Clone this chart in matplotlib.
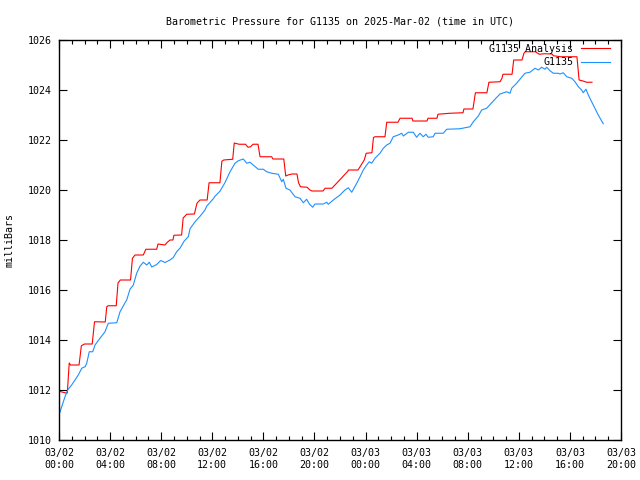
import matplotlib
matplotlib.use("Agg")
import matplotlib.pyplot as plt
from matplotlib.ticker import MultipleLocator

# hours since 03/02 00:00 UTC
analysis_hours = [0.0, 0.55, 0.65, 0.80, 0.90, 1.57, 1.75, 2.0, 2.6, 2.78, 3.62, 3.74, 3.85, 4.48,
                  4.62, 4.8, 5.6, 5.75, 5.95, 6.6, 6.8, 7.65, 7.75, 8.3, 8.46, 8.69, 8.92, 9.0, 9.6,
                  9.72, 10.0, 10.6, 10.8, 11.04, 11.6, 11.75, 12.6, 12.75, 12.9, 13.6, 13.72, 14.1,
                  14.6, 14.8, 15.0, 15.19, 15.58, 15.74, 16.65, 16.75, 17.6, 17.75, 17.93, 18.24,
                  18.63, 18.75, 18.9, 19.42, 19.65, 19.81, 20.67, 20.83, 21.37, 22.63, 22.65, 23.41,
                  23.9, 24.05, 24.5, 24.62, 24.74, 25.52, 25.66, 26.54, 26.70, 27.64, 27.71, 28.81,
                  28.89, 29.59, 29.67, 30.61, 31.63, 31.7, 32.41, 32.6, 33.5, 33.66, 34.53, 34.68,
                  34.76, 35.47, 35.6, 36.25, 36.40, 36.5, 37.3, 37.6, 38.0, 38.6, 38.7, 39.3, 40.55,
                  40.72, 41.1, 41.3, 41.73]
analysis_mb = [1011.95, 1011.88, 1011.88, 1013.08, 1013.0, 1013.0, 1013.77, 1013.84, 1013.84, 1014.73,
               1014.72, 1015.33, 1015.37, 1015.37, 1016.28, 1016.4, 1016.4, 1017.27, 1017.4, 1017.4,
               1017.63, 1017.63, 1017.84, 1017.8, 1017.9, 1018.0, 1018.0, 1018.19, 1018.2, 1018.88,
               1019.03, 1019.04, 1019.47, 1019.6, 1019.6, 1020.29, 1020.29, 1021.15, 1021.2, 1021.23,
               1021.88, 1021.83, 1021.83, 1021.71, 1021.73, 1021.83, 1021.83, 1021.33, 1021.33,
               1021.24, 1021.24, 1020.56, 1020.6, 1020.64, 1020.64, 1020.3, 1020.13, 1020.11, 1020.0,
               1019.96, 1019.96, 1020.07, 1020.07, 1020.76, 1020.8, 1020.8, 1021.2, 1021.47, 1021.49,
               1022.1, 1022.13, 1022.13, 1022.71, 1022.71, 1022.87, 1022.87, 1022.76, 1022.76,
               1022.87, 1022.87, 1023.03, 1023.07, 1023.09, 1023.24, 1023.24, 1023.89, 1023.89,
               1024.31, 1024.33, 1024.47, 1024.63, 1024.63, 1025.2, 1025.2, 1025.47, 1025.53,
               1025.53, 1025.43, 1025.45, 1025.44, 1025.37, 1025.33, 1025.33, 1024.4, 1024.35,
               1024.31, 1024.31]

obs_hours = [0.0, 0.21, 0.47, 0.68, 0.99, 1.25, 1.51, 1.78, 2.04, 2.17, 2.37, 2.64, 2.82, 3.21, 3.60,
             3.86, 4.52, 4.78, 5.17, 5.30, 5.56, 5.82, 6.08, 6.34, 6.60, 6.87, 7.07, 7.26, 7.65, 7.96,
             8.30, 8.69, 8.95, 9.21, 9.47, 9.79, 10.12, 10.26, 10.65, 11.04, 11.43, 11.56, 12.08,
             12.21, 12.60, 13.00, 13.39, 13.78, 14.04, 14.43, 14.70, 14.95, 15.21, 15.60, 16.00,
             16.26, 16.65, 17.17, 17.44, 17.56, 17.77, 18.08, 18.48, 18.87, 19.13, 19.39, 19.60,
             19.86, 20.04, 20.69, 20.96, 21.08, 21.48, 22.0, 22.39, 22.65, 22.92, 23.31, 23.57,
             23.82, 24.09, 24.29, 24.48, 24.74, 25.13, 25.39, 25.66, 25.91, 26.17, 26.56, 26.83,
             26.96, 27.35, 27.74, 28.00, 28.26, 28.52, 28.73, 28.91, 29.30, 29.44, 30.09, 30.35,
             31.39, 32.18, 32.44, 32.83, 33.09, 33.48, 33.88, 34.13, 34.53, 35.05, 35.31, 35.44,
             35.83, 36.09, 36.48, 36.87, 37.27, 37.53, 37.79, 38.05, 38.18, 38.44, 38.70, 39.09,
             39.22, 39.48, 39.75, 40.14, 40.40, 40.66, 40.92, 41.04, 41.26, 41.44, 41.70, 41.96,
             42.22, 42.61]
obs_mb = [1011.0, 1011.33, 1011.73, 1012.0, 1012.2, 1012.4, 1012.6, 1012.87, 1012.93, 1013.07,
          1013.53, 1013.53, 1013.8, 1014.07, 1014.33, 1014.67, 1014.69, 1015.13, 1015.49, 1015.6,
          1016.03, 1016.2, 1016.67, 1016.95, 1017.11, 1017.0, 1017.11, 1016.92, 1017.02, 1017.18,
          1017.1, 1017.2, 1017.3, 1017.53, 1017.67, 1017.95, 1018.13, 1018.45, 1018.73, 1018.95,
          1019.2, 1019.35, 1019.65, 1019.75, 1019.95, 1020.3, 1020.73, 1021.07, 1021.17, 1021.24,
          1021.07, 1021.11, 1021.0, 1020.83, 1020.83, 1020.73, 1020.67, 1020.63, 1020.33, 1020.43,
          1020.07, 1020.0, 1019.73, 1019.67, 1019.49, 1019.63, 1019.44, 1019.31, 1019.44, 1019.44,
          1019.51, 1019.43, 1019.6, 1019.8, 1020.0, 1020.09, 1019.91, 1020.27, 1020.53, 1020.8,
          1021.0, 1021.13, 1021.07, 1021.27, 1021.47, 1021.67, 1021.8, 1021.87, 1022.13, 1022.2,
          1022.27, 1022.16, 1022.31, 1022.31, 1022.11, 1022.27, 1022.13, 1022.23, 1022.11, 1022.13,
          1022.27, 1022.27, 1022.43, 1022.45, 1022.53, 1022.73, 1022.96, 1023.2, 1023.27, 1023.49,
          1023.63, 1023.84, 1023.93, 1023.87, 1024.07, 1024.27, 1024.43, 1024.67, 1024.71, 1024.87,
          1024.8, 1024.91, 1024.83, 1024.91, 1024.77, 1024.67, 1024.67, 1024.64, 1024.69, 1024.53,
          1024.47, 1024.33, 1024.13, 1024.0, 1023.89, 1024.03, 1023.8, 1023.53, 1023.27, 1023.0,
          1022.65]

xtick_hours = [0, 4, 8, 12, 16, 20, 24, 28, 32, 36, 40, 44]
xtick_labels = ["03/02\n00:00", "03/02\n04:00", "03/02\n08:00", "03/02\n12:00", "03/02\n16:00",
                "03/02\n20:00", "03/03\n00:00", "03/03\n04:00", "03/03\n08:00", "03/03\n12:00",
                "03/03\n16:00", "03/03\n20:00"]
yticks = [1010, 1012, 1014, 1016, 1018, 1020, 1022, 1024, 1026]

FONT = "DejaVu Sans Mono"
FS = 7.2
plt.rcParams['font.family'] = FONT

fig = plt.figure(figsize=(6.4, 4.8), dpi=100)
ax = fig.add_axes([59/640, 40/480, 562/640, 400/480])

ax.plot(analysis_hours, analysis_mb, color="#ff0000", lw=0.8, label="G1135 Analysis")
ax.plot(obs_hours, obs_mb, color="#1e90ff", lw=0.8, label="G1135")

ax.set_xlim(0, 44)
ax.set_ylim(1010, 1026)
ax.set_xticks(xtick_hours)
ax.set_xticklabels(xtick_labels, fontsize=FS, linespacing=1.25)
ax.xaxis.set_minor_locator(MultipleLocator(1))
ax.set_yticks(yticks)
ax.set_yticklabels([str(v) for v in yticks], fontsize=FS)
ax.tick_params(axis='both', which='major', direction='in', length=6, width=0.8,
               top=True, right=True)
ax.tick_params(axis='y', which='major', pad=5)
ax.tick_params(axis='x', which='major', pad=6)
ax.tick_params(axis='x', which='minor', direction='in', length=3, width=0.8, top=True)
for s in ax.spines.values():
    s.set_linewidth(1.0)

ax.set_title("Barometric Pressure for G1135 on 2025-Mar-02 (time in UTC)", fontsize=FS, pad=11)
ax.set_ylabel("milliBars", fontsize=FS, labelpad=10)

leg = ax.legend(loc="upper right", bbox_to_anchor=(0.9804, 0.99), frameon=False,
                markerfirst=False, fontsize=FS, handlelength=2.9, handletextpad=0.75,
                labelspacing=0.35, borderaxespad=0.0, borderpad=0.0)

fig.savefig("out.png", dpi=100)
